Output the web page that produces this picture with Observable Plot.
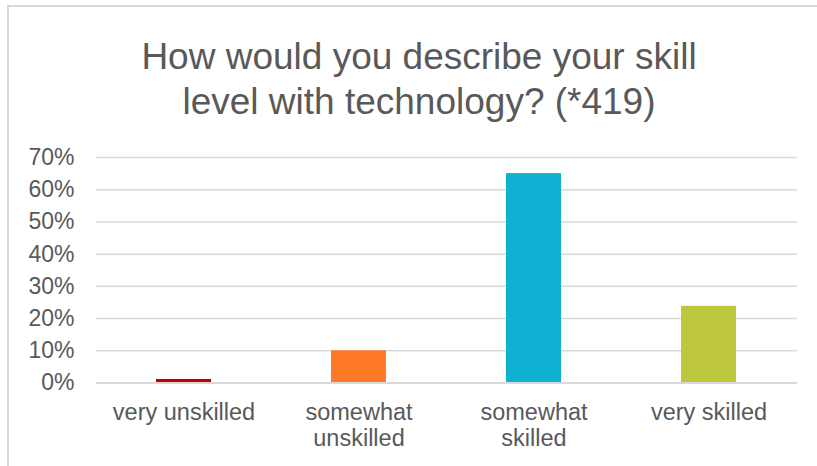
<!DOCTYPE html>
<html>
<head>
<meta charset="utf-8">
<script src="https://cdn.jsdelivr.net/npm/d3@7"></script>
<script src="https://cdn.jsdelivr.net/npm/@observablehq/plot@0.6"></script>
<style>
  html, body { margin: 0; padding: 0; background: #fff; }
  #wrap { position: relative; width: 817px; height: 466px; overflow: hidden; font-family: "Liberation Sans", Arial, sans-serif; }
  #frame { position: absolute; left: 7px; top: 5px; width: 900px; height: 600px; border: 2px solid #d9d9d9; box-sizing: border-box; }
  #title { position: absolute; left: 0; width: 838px; top: 34px; text-align: center; font-size: 37px; line-height: 45px; color: #595959; }
  #chart { position: absolute; left: 0; top: 140px; }
</style>
</head>
<body>
<div id="wrap">
  <div id="frame"></div>
  <div id="title">How would you describe your skill<br>level with technology? (*419)</div>
  <div id="chart"></div>
</div>
<script>
const categories = ["very unskilled", "somewhat unskilled", "somewhat skilled", "very skilled"];
const categoryLabels = ["very unskilled", "somewhat\nunskilled", "somewhat\nskilled", "very skilled"];
const values = [0.011, 0.10, 0.65, 0.238];
const colors = ["#C00000", "#FF7A28", "#0EB1D2", "#BEC83E"];
const yTicks = [0, 0.1, 0.2, 0.3, 0.4, 0.5, 0.6, 0.7];

const data = categories.map((c, i) => ({category: c, label: categoryLabels[i], value: values[i]}));

const chart = Plot.plot({
  width: 817,
  height: 326,
  marginLeft: 96,
  marginRight: 20,
  marginTop: 17,
  marginBottom: 83.5,
  style: {fontFamily: "'Liberation Sans', Arial, sans-serif", color: "#595959", background: "transparent", overflow: "visible"},
  x: {domain: categories, paddingInner: 0.683, paddingOuter: 0.3415, axis: null},
  y: {domain: [0, 0.7], axis: null},
  color: {domain: categories, range: colors},
  marks: [
    Plot.ruleY(yTicks, {y: d => d, stroke: "#d9d9d9", strokeWidth: 1.5}),
    Plot.barY(data, {x: "category", y: "value", fill: "category"}),
    Plot.ruleY([0], {stroke: "#d9d9d9", strokeWidth: 2}),
    Plot.text(yTicks, {x: null, y: d => d, text: d => Math.round(d * 100) + "%", frameAnchor: "left", textAnchor: "end", dx: -22, fontSize: 23, fill: "#595959"}),
    Plot.text(data, {x: "category", y: 0, text: "label", lineAnchor: "top", dy: 18, lineHeight: 1.12, fontSize: 23.5, fill: "#595959"})
  ]
});
document.getElementById("chart").appendChild(chart);
</script>
</body>
</html>
